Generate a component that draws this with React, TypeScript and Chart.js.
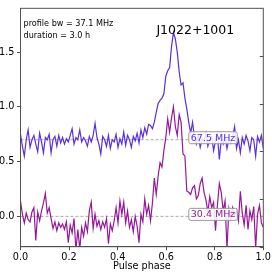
import { useEffect, useRef } from "react";
import { Chart, registerables } from "chart.js";

Chart.register(...registerables);

// ---- data ----
const N_BINS = 128;
const phase: number[] = Array.from({ length: N_BINS }, (_, i) => i / (N_BINS - 1));

const prof675: number[] = [
  0.75, 0.64, 0.55, 0.70, 0.79, 0.63, 0.70, 0.74, 0.66, 0.59,
  0.76, 0.68, 0.58, 0.72, 0.70, 0.75, 0.58, 0.70, 0.73, 0.64,
  0.74, 0.67, 0.72, 0.66, 0.71, 0.68, 0.74, 0.80, 0.66, 0.72,
  0.70, 0.79, 0.68, 0.72, 0.69, 0.64, 0.73, 0.68, 0.74, 0.85,
  0.72, 0.66, 0.57, 0.73, 0.70, 0.64, 0.74, 0.62, 0.70, 0.68,
  0.75, 0.63, 0.71, 0.66, 0.77, 0.65, 0.74, 0.70, 0.63, 0.73,
  0.69, 0.76, 0.67, 0.79, 0.72, 0.81, 0.75, 0.84, 0.83, 0.80,
  0.86, 0.95, 1.03, 1.06, 1.08, 1.12, 1.28, 1.33, 1.36, 1.55,
  1.68, 1.62, 1.50, 1.32, 1.20, 1.22, 1.08, 0.98, 0.86, 0.76,
  0.86, 0.72, 0.66, 0.74, 0.63, 0.71, 0.68, 0.76, 0.64, 0.70,
  0.73, 0.60, 0.69, 0.75, 0.52, 0.70, 0.66, 0.74, 0.62, 0.71,
  0.67, 0.73, 0.82, 0.62, 0.70, 0.58, 0.72, 0.66, 0.74, 0.69,
  0.60, 0.72, 0.70, 0.55, 0.73, 0.68, 0.74, 0.62,
];

const prof304: number[] = [
  0.14, 0.02, -0.06, 0.03, -0.03, -0.05, 0.04, 0.08, -0.22, 0.04,
  -0.04, 0.05, 0.12, 0.21, 0.03, 0.08, -0.02, -0.11, -0.05, -0.13,
  -0.06, -0.10, -0.07, -0.12, -0.05, -0.24, -0.08, -0.15, -0.02, -0.31,
  -0.12, -0.30, -0.10, -0.18, -0.06, -0.14, 0.05, 0.13, -0.11, 0.02,
  -0.09, -0.04, -0.12, -0.05, -0.10, -0.02, -0.25, -0.07, -0.13, -0.04,
  0.08, -0.06, 0.14, 0.02, 0.13, -0.06, 0.05, -0.10, -0.03, -0.14,
  0.00, -0.09, -0.24, 0.02, -0.05, 0.16, 0.02, 0.10, -0.04, 0.12,
  0.35, 0.20, 0.37, 0.49, 0.45, 0.60, 0.72, 0.89, 0.77, 0.90,
  1.00, 0.82, 0.74, 0.93, 0.86, 0.57, 0.55, 0.23, 0.22, 0.20,
  0.26, 0.28, 0.16, 0.19, 0.30, 0.35, 0.22, 0.15, 0.04, 0.18,
  0.08, 0.13, -0.13, 0.10, 0.30, 0.22, 0.05, 0.14, -0.30, 0.07,
  -0.02, 0.08, 0.01, 0.06, -0.04, 0.23, 0.03, -0.08, 0.10, -0.12,
  0.05, -0.03, 0.09, -0.29, 0.02, 0.10, -0.06, -0.10,
];

const baselines: number[] = [0.7, 0.0];
const freqLabels: string[] = ["67.5 MHz", "30.4 MHz"];
const seriesColors: string[] = ["#5a2fe3", "#96189a"];

const xTicks: number[] = [0, 0.2, 0.4, 0.6, 0.8, 1.0];
const yTicks: number[] = [0, 0.5, 1.0, 1.5];
const rightTicks: number[] = [0, 1, 2, 3, 4];

const titleText = "J1022+1001";
const infoLines: string[] = ["profile bw = 37.1 MHz", "duration = 3.0 h"];

const SPINE = "#505050";
const FONT = "'DejaVu Sans', sans-serif";

const decor = {
  id: "decor",
  afterDatasetsDraw(chart: any) {
    const { ctx, chartArea: a, scales } = chart;
    const xs = scales.x;
    const ys = scales.y;
    const yr = scales.yr;
    ctx.save();
    // box spines
    ctx.strokeStyle = SPINE;
    ctx.lineWidth = 1;
    ctx.strokeRect(a.left, a.top, a.right - a.left, a.bottom - a.top);
    // right inward ticks
    ctx.beginPath();
    yr.ticks.forEach((t: any) => {
      const y = Math.round(yr.getPixelForValue(t.value)) + 0.5;
      ctx.moveTo(a.right - 3.5, y);
      ctx.lineTo(a.right, y);
    });
    ctx.stroke();

    // title
    ctx.fillStyle = "#000";
    ctx.font = `12.5px ${FONT}`;
    ctx.textAlign = "center";
    ctx.textBaseline = "alphabetic";
    ctx.fillText(titleText, xs.getPixelForValue(0.72), a.top + 25.7);

    // info text
    ctx.font = `8.1px ${FONT}`;
    ctx.textAlign = "left";
    ctx.fillText(infoLines[0], a.left + 3, a.top + 17.5);
    ctx.fillText(infoLines[1], a.left + 3, a.top + 29.3);

    // frequency labels
    ctx.font = `9.5px ${FONT}`;
    ctx.textAlign = "center";
    ctx.textBaseline = "middle";
    freqLabels.forEach((lab, k) => {
      const cx = xs.getPixelForValue(0.793);
      const cy = ys.getPixelForValue(baselines[k]) - 2;
      const w = ctx.measureText(lab).width + 4;
      const h = 12;
      const x0 = cx - w / 2;
      const y0 = cy - h / 2;
      ctx.beginPath();
      const r = 2;
      ctx.moveTo(x0 + r, y0);
      ctx.lineTo(x0 + w - r, y0);
      ctx.quadraticCurveTo(x0 + w, y0, x0 + w, y0 + r);
      ctx.lineTo(x0 + w, y0 + h - r);
      ctx.quadraticCurveTo(x0 + w, y0 + h, x0 + w - r, y0 + h);
      ctx.lineTo(x0 + r, y0 + h);
      ctx.quadraticCurveTo(x0, y0 + h, x0, y0 + h - r);
      ctx.lineTo(x0, y0 + r);
      ctx.quadraticCurveTo(x0, y0, x0 + r, y0);
      ctx.closePath();
      ctx.fillStyle = "rgba(255,255,255,0.85)";
      ctx.fill();
      ctx.strokeStyle = "#999";
      ctx.lineWidth = 1;
      ctx.stroke();
      ctx.fillStyle = seriesColors[k];
      ctx.fillText(lab, cx, cy + 0.5);
    });
    ctx.restore();
  },
};

export default function App() {
  const ref = useRef<HTMLCanvasElement | null>(null);

  useEffect(() => {
    document.body.style.margin = "0";
    const canvas = ref.current;
    if (!canvas) return;

    const profiles = [prof675, prof304];
    const datasets: any[] = [];
    baselines.forEach((b) => {
      datasets.push({
        data: [
          { x: 0, y: b },
          { x: 1, y: b },
        ],
        borderColor: "#a8a8a8",
        borderWidth: 1,
        borderDash: [3, 2],
        pointRadius: 0,
        order: 2,
      });
    });
    profiles.forEach((p, k) => {
      datasets.push({
        data: p.map((v, i) => ({ x: phase[i], y: v })),
        borderColor: seriesColors[k],
        borderWidth: 1.2,
        pointRadius: 0,
        tension: 0,
        order: 1,
      });
    });

    const chart = new Chart(canvas, {
      type: "line",
      data: { datasets },
      plugins: [decor],
      options: {
        animation: false,
        responsive: false,
        devicePixelRatio: 1,
        layout: { padding: { top: 5, left: 0, right: 0, bottom: 0 } },
        plugins: { legend: { display: false }, tooltip: { enabled: false } },
        scales: {
          x: {
            type: "linear",
            min: 0,
            max: 1,
            afterBuildTicks: (s: any) => {
              s.ticks = xTicks.map((v) => ({ value: v }));
            },
            afterFit: (s: any) => {
              s.height = 28.3;
            },
            grid: {
              drawOnChartArea: false,
              drawTicks: true,
              tickLength: 3.5,
              color: SPINE,
            },
            border: { display: true, color: SPINE, width: 1 },
            ticks: {
              color: "#000",
              font: { family: FONT, size: 9.7 },
              padding: 1,
              maxRotation: 0,
              callback: (v: any) => Number(v).toFixed(1),
            },
            title: {
              display: true,
              text: "Pulse phase",
              color: "#000",
              font: { family: FONT, size: 9.7 },
              padding: { top: 0, bottom: 3 },
            },
          },
          y: {
            type: "linear",
            position: "left",
            min: -0.277,
            max: 1.9,
            afterBuildTicks: (s: any) => {
              s.ticks = yTicks.map((v) => ({ value: v }));
            },
            afterFit: (s: any) => {
              s.width = 20.5;
            },
            grid: {
              drawOnChartArea: false,
              drawTicks: true,
              tickLength: 3.5,
              color: SPINE,
            },
            border: { display: true, color: SPINE, width: 1 },
            ticks: {
              color: "#000",
              font: { family: FONT, size: 9.7 },
              padding: 2.5,
              callback: (v: any) => Number(v).toFixed(1),
            },
          },
          yr: {
            type: "linear",
            position: "right",
            min: 0,
            max: 5,
            afterBuildTicks: (s: any) => {
              s.ticks = rightTicks.map((v) => ({ value: v }));
            },
            afterFit: (s: any) => {
              s.width = 8.7;
            },
            grid: { display: false },
            border: { display: false },
            ticks: { display: false },
          },
        },
      },
    });
    return () => chart.destroy();
  }, []);

  return (
    <div style={{ width: 272, height: 275, background: "#fff" }}>
      <canvas ref={ref} width={272} height={275} style={{ display: "block" }} />
    </div>
  );
}
